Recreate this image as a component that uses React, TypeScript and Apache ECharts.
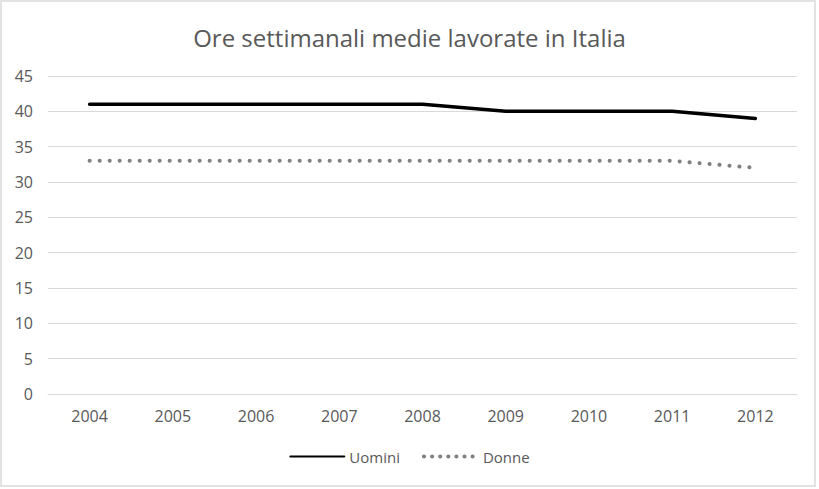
import React, { useEffect, useRef } from "react";
import * as echarts from "echarts";

const title = "Ore settimanali medie lavorate in Italia";
const years = ["2004", "2005", "2006", "2007", "2008", "2009", "2010", "2011", "2012"];
const uomini = [41, 41, 41, 41, 41, 40, 40, 40, 39];
const donne = [33, 33, 33, 33, 33, 33, 33, 33, 32];

const FONT = "'Open Sans', 'Noto Sans', sans-serif";
const TXT = "#595959";

export default function App() {
  const ref = useRef<HTMLDivElement>(null);
  useEffect(() => {
    const chart = echarts.init(ref.current!, null, { renderer: "svg" });
    chart.setOption({
      animation: false,
      backgroundColor: "#ffffff",
      title: {
        text: title,
        left: "center",
        top: 20,
        textStyle: { fontFamily: FONT, fontSize: 24, fontWeight: "normal", color: TXT },
      },
      graphic: [
        {
          type: "rect",
          shape: { x: 1, y: 1, width: 814, height: 485 },
          style: { fill: "none", stroke: "#d9d9d9", lineWidth: 1.5 },
          silent: true,
        },
      ],
      legend: {
        bottom: 20,
        left: "center",
        itemWidth: 54,
        itemHeight: 12,
        itemGap: 22,
        itemStyle: { opacity: 0 },
        textStyle: { fontFamily: FONT, fontSize: 15, color: TXT },
        data: [
          { name: "Uomini" },
          { name: "Donne", lineStyle: { type: [0.1, 8], width: 4, cap: "round" } },
        ],
      },
      grid: { left: 48, right: 22, top: 76, bottom: 95, containLabel: false },
      xAxis: {
        type: "category",
        data: years,
        boundaryGap: true,
        axisLine: { show: true, lineStyle: { color: "#d9d9d9", width: 1 } },
        axisTick: { show: false },
        axisLabel: { fontFamily: FONT, fontSize: 16, color: TXT, margin: 14 },
      },
      yAxis: {
        type: "value",
        min: 0,
        max: 45,
        interval: 5,
        axisLine: { show: false },
        axisTick: { show: false },
        axisLabel: { fontFamily: FONT, fontSize: 16, color: TXT, margin: 15 },
        splitLine: { lineStyle: { color: "#d9d9d9", width: 1 } },
      },
      series: [
        {
          name: "Uomini",
          type: "line",
          data: uomini,
          symbol: "none",
          lineStyle: { color: "#000000", width: 3.5, cap: "round" },
          itemStyle: { color: "#000000" },
        },
        {
          name: "Donne",
          type: "line",
          data: donne,
          symbol: "none",
          lineStyle: { color: "#808080", width: 4, type: [0.1, 9.9], cap: "round" },
          itemStyle: { color: "#808080" },
        },
      ],
    });
    return () => chart.dispose();
  }, []);
  return (
    <div
      ref={ref}
      style={{ position: "absolute", left: 0, top: 0, width: 819, height: 489 }}
    />
  );
}
